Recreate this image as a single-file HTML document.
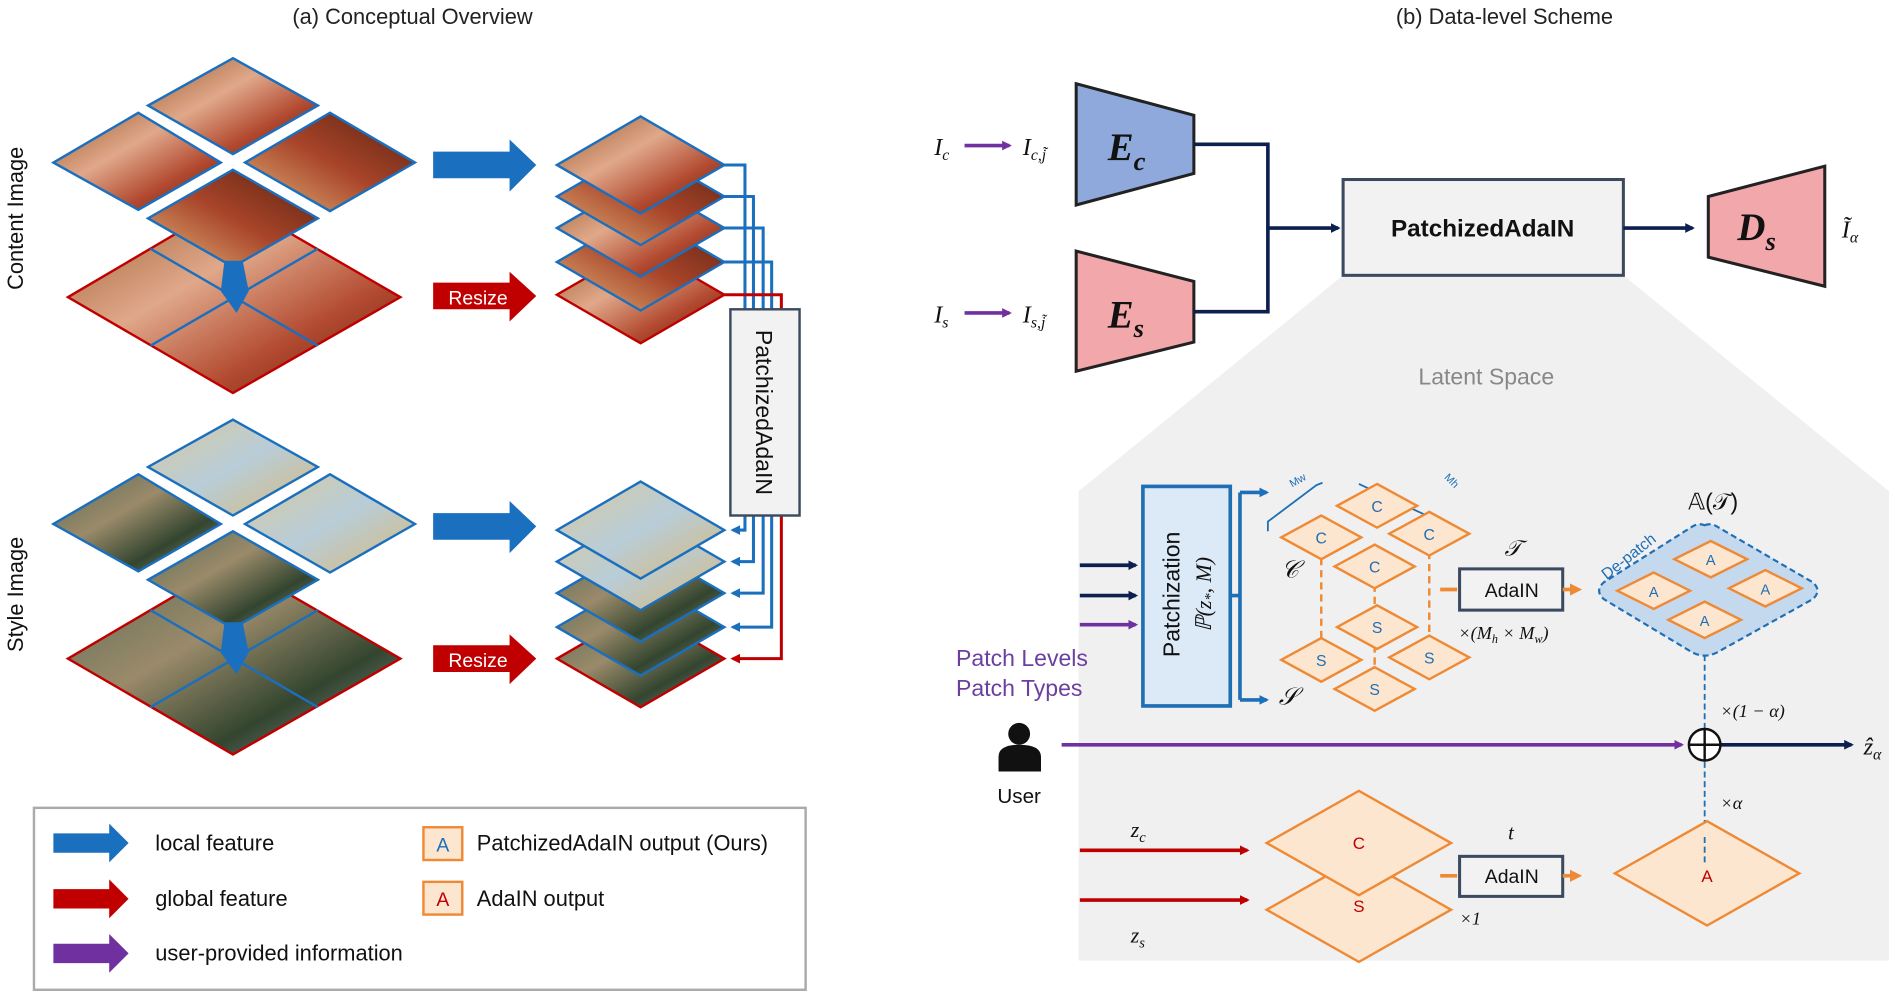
<!DOCTYPE html>
<html><head><meta charset="utf-8"><style>
html,body{margin:0;padding:0;background:#fff;}
svg{display:block;}
text{font-family:"Liberation Sans",sans-serif;}
.ser{font-family:"Liberation Serif",serif;font-style:italic;}
</style></head><body>
<svg width="1900" height="991" viewBox="0 0 1566 817" preserveAspectRatio="none" xmlns="http://www.w3.org/2000/svg">
<defs>
<linearGradient id="face" x1="0" y1="0" x2="1" y2="1"><stop offset="0" stop-color="#9a5a2e"/><stop offset="0.4" stop-color="#e0a88a"/><stop offset="0.7" stop-color="#b24a30"/><stop offset="1" stop-color="#5e2010"/></linearGradient>
<linearGradient id="face2" x1="1" y1="0" x2="0" y2="1"><stop offset="0" stop-color="#5a2210"/><stop offset="0.5" stop-color="#a8442a"/><stop offset="1" stop-color="#e2b478"/></linearGradient>
<linearGradient id="sty" x1="0" y1="0" x2="1" y2="1"><stop offset="0" stop-color="#d9c9a0"/><stop offset="0.5" stop-color="#b8cdd8"/><stop offset="1" stop-color="#d8b878"/></linearGradient>
<linearGradient id="sty2" x1="0" y1="0" x2="1" y2="1"><stop offset="0" stop-color="#5b6a55"/><stop offset="0.4" stop-color="#9a8a6a"/><stop offset="0.7" stop-color="#33452f"/><stop offset="1" stop-color="#8c9aa0"/></linearGradient>
<marker id="mn" markerWidth="8" markerHeight="8" refX="6" refY="4" orient="auto" markerUnits="userSpaceOnUse"><path d="M0,0 L8,4 L0,8 Z" fill="#0d1f4e"/></marker>
<marker id="mp" markerWidth="8" markerHeight="8" refX="6" refY="4" orient="auto" markerUnits="userSpaceOnUse"><path d="M0,0 L8,4 L0,8 Z" fill="#7030a0"/></marker>
<marker id="mr" markerWidth="8" markerHeight="8" refX="6" refY="4" orient="auto" markerUnits="userSpaceOnUse"><path d="M0,0 L8,4 L0,8 Z" fill="#c00000"/></marker>
<marker id="mb" markerWidth="8" markerHeight="8" refX="6" refY="4" orient="auto" markerUnits="userSpaceOnUse"><path d="M0,0 L8,4 L0,8 Z" fill="#1a6fbe"/></marker>
<marker id="mo" markerWidth="10" markerHeight="10" refX="6" refY="5" orient="auto" markerUnits="userSpaceOnUse"><path d="M0,0 L10,5 L0,10 Z" fill="#ee8a35"/></marker>
</defs>

<text x="340" y="20" font-size="18" text-anchor="middle" fill="#222">(a) Conceptual Overview</text>
<text x="1240" y="20" font-size="18" text-anchor="middle" fill="#222">(b) Data-level Scheme</text>
<text transform="translate(19,180) rotate(-90)" font-size="18" text-anchor="middle" fill="#111">Content Image</text>
<text transform="translate(19,490) rotate(-90)" font-size="18" text-anchor="middle" fill="#111">Style Image</text>

<g stroke-width="2">
<polygon points="192,165 330,245 192,324 56,245" fill="url(#face)" stroke="#c00000"/>
<line x1="124" y1="205" x2="262" y2="285" stroke="#1a6fbe" stroke-width="2"/>
<line x1="262" y1="205" x2="124" y2="285" stroke="#1a6fbe" stroke-width="2"/>
<polygon points="114,93 182,134 114,173 44,134" fill="url(#face)" stroke="#1a6fbe"/>
<polygon points="272,93 342,134 272,174 202,134" fill="url(#face2)" stroke="#1a6fbe"/>
<polygon points="192,140 262,180 192,220 122,180" fill="url(#face2)" stroke="#1a6fbe"/>
<polygon points="192,48 262,87 192,127 122,87" fill="url(#face)" stroke="#1a6fbe"/>
</g>
<path d="M185,215 L200,215 L205,240 L195,258 L182,240 Z" fill="#1a6fbe"/>
<g stroke-width="2">
<polygon points="192,463 330,543 192,622 56,543" fill="url(#sty2)" stroke="#c00000"/>
<line x1="124" y1="503" x2="262" y2="583" stroke="#1a6fbe"/>
<line x1="262" y1="503" x2="124" y2="583" stroke="#1a6fbe"/>
<polygon points="114,391 182,432 114,471 44,432" fill="url(#sty2)" stroke="#1a6fbe"/>
<polygon points="272,391 342,432 272,472 202,432" fill="url(#sty)" stroke="#1a6fbe"/>
<polygon points="192,438 262,478 192,518 122,478" fill="url(#sty2)" stroke="#1a6fbe"/>
<polygon points="192,346 262,385 192,425 122,385" fill="url(#sty)" stroke="#1a6fbe"/>
</g>
<path d="M185,513 L200,513 L205,538 L195,556 L182,538 Z" fill="#1a6fbe"/>

<path d="M357,125 L420,125 L420,115 L442,136 L420,158 L420,147 L357,147 Z" fill="#1a6fbe"/>
<path d="M357,233 L420,233 L420,224 L442,244 L420,265 L420,255 L357,255 Z" fill="#c00000"/>
<text x="394" y="251" font-size="16" fill="#fff" text-anchor="middle">Resize</text>
<path d="M357,423 L420,423 L420,413 L442,434 L420,456 L420,445 L357,445 Z" fill="#1a6fbe"/>
<path d="M357,532 L420,532 L420,523 L442,543 L420,564 L420,554 L357,554 Z" fill="#c00000"/>
<text x="394" y="550" font-size="16" fill="#fff" text-anchor="middle">Resize</text>

<g stroke-width="2">
<polygon points="528,203 597,243 528,283 459,243" fill="url(#face)" stroke="#c00000"/>
<polygon points="528,176 597,216 528,256 459,216" fill="url(#face2)" stroke="#1a6fbe"/>
<polygon points="528,148 597,188 528,228 459,188" fill="url(#face)" stroke="#1a6fbe"/>
<polygon points="528,122 597,162 528,202 459,162" fill="url(#face2)" stroke="#1a6fbe"/>
<polygon points="528,96 597,136 528,176 459,136" fill="url(#face)" stroke="#1a6fbe"/>
</g>
<g fill="none" stroke-width="2.5">
<path d="M597,136 H614 V255" stroke="#1a6fbe"/>
<path d="M597,162 H621 V255" stroke="#1a6fbe"/>
<path d="M597,188 H629 V255" stroke="#1a6fbe"/>
<path d="M597,216 H636 V255" stroke="#1a6fbe"/>
<path d="M597,243 H644 V255" stroke="#c00000"/>
</g>
<g stroke-width="2">
<polygon points="528,503 597,543 528,583 459,543" fill="url(#sty2)" stroke="#c00000"/>
<polygon points="528,477 597,517 528,557 459,517" fill="url(#sty2)" stroke="#1a6fbe"/>
<polygon points="528,449 597,489 528,529 459,489" fill="url(#sty2)" stroke="#1a6fbe"/>
<polygon points="528,423 597,463 528,503 459,463" fill="url(#sty)" stroke="#1a6fbe"/>
<polygon points="528,397 597,437 528,477 459,437" fill="url(#sty)" stroke="#1a6fbe"/>
</g>
<g fill="none" stroke-width="2.5">
<path d="M614,425 V437 H604" stroke="#1a6fbe" marker-end="url(#mb)"/>
<path d="M621,425 V463 H604" stroke="#1a6fbe" marker-end="url(#mb)"/>
<path d="M629,425 V489 H604" stroke="#1a6fbe" marker-end="url(#mb)"/>
<path d="M636,425 V517 H604" stroke="#1a6fbe" marker-end="url(#mb)"/>
<path d="M644,425 V543 H604" stroke="#c00000" marker-end="url(#mr)"/>
</g>
<rect x="602" y="255" width="57" height="170" fill="#f2f2f2" stroke="#3b4a5f" stroke-width="2"/>
<text transform="translate(623,340) rotate(90)" font-size="19" text-anchor="middle" fill="#111">PatchizedAdaIN</text>

<rect x="28" y="666" width="636" height="150" fill="#fff" stroke="#aaa" stroke-width="2"/>
<path d="M44,687 L90,687 L90,679 L106,695 L90,711 L90,703 L44,703 Z" fill="#1a6fbe"/>
<path d="M44,733 L90,733 L90,725 L106,741 L90,757 L90,749 L44,749 Z" fill="#c00000"/>
<path d="M44,778 L90,778 L90,770 L106,786 L90,802 L90,794 L44,794 Z" fill="#7030a0"/>
<g font-size="18" fill="#111">
<text x="128" y="701">local feature</text>
<text x="128" y="747">global feature</text>
<text x="128" y="792">user-provided information</text>
<text x="393" y="701">PatchizedAdaIN output (Ours)</text>
<text x="393" y="747">AdaIN output</text>
</g>
<rect x="349" y="682" width="32" height="27" fill="#fde6cf" stroke="#ee8a35" stroke-width="2"/>
<text x="365" y="702" font-size="16" text-anchor="middle" fill="#1a6fbe">A</text>
<rect x="349" y="727" width="32" height="27" fill="#fde6cf" stroke="#ee8a35" stroke-width="2"/>
<text x="365" y="747" font-size="16" text-anchor="middle" fill="#c00000">A</text>

<polygon points="1107,227 1338,227 1557,405 1557,792 889,792 889,405" fill="#f0f0f0"/>
<text x="1225" y="317" font-size="19" text-anchor="middle" fill="#888">Latent Space</text>

<text x="770" y="128" class="ser" font-size="20" fill="#111">I<tspan font-size="13" dy="4">c</tspan></text>
<line x1="795" y1="120" x2="832" y2="120" stroke="#7030a0" stroke-width="3" marker-end="url(#mp)"/>
<text x="843" y="128" class="ser" font-size="20" fill="#111">I<tspan font-size="13" dy="4">c,j̃</tspan></text>
<text x="770" y="266" class="ser" font-size="20" fill="#111">I<tspan font-size="13" dy="4">s</tspan></text>
<line x1="795" y1="258" x2="832" y2="258" stroke="#7030a0" stroke-width="3" marker-end="url(#mp)"/>
<text x="843" y="266" class="ser" font-size="20" fill="#111">I<tspan font-size="13" dy="4">s,j̃</tspan></text>

<polygon points="887,69 984,95 984,143 887,169" fill="#8fa9dc" stroke="#222" stroke-width="2.5"/>
<text x="913" y="132" class="ser" font-size="32" font-weight="bold" fill="#111">E<tspan font-size="22" dy="8">c</tspan></text>
<polygon points="887,207 984,232 984,282 887,306" fill="#f2a7aa" stroke="#222" stroke-width="2.5"/>
<text x="913" y="270" class="ser" font-size="32" font-weight="bold" fill="#111">E<tspan font-size="22" dy="8">s</tspan></text>
<path d="M984,119 H1045 V257 H984" fill="none" stroke="#0d1f4e" stroke-width="3"/>
<line x1="1045" y1="188" x2="1103" y2="188" stroke="#0d1f4e" stroke-width="3" marker-end="url(#mn)"/>
<rect x="1107" y="148" width="231" height="79" fill="#f2f2f2" stroke="#3b4a5f" stroke-width="2.5"/>
<text x="1222" y="195" font-size="20" font-weight="bold" text-anchor="middle" fill="#111">PatchizedAdaIN</text>
<line x1="1338" y1="188" x2="1395" y2="188" stroke="#0d1f4e" stroke-width="3" marker-end="url(#mn)"/>
<polygon points="1408,162 1504,137 1504,236 1408,212" fill="#f2a7aa" stroke="#222" stroke-width="2.5"/>
<text x="1432" y="198" class="ser" font-size="32" font-weight="bold" fill="#111">D<tspan font-size="22" dy="8">s</tspan></text>
<text x="1518" y="196" class="ser" font-size="20" fill="#111">Ĩ<tspan font-size="13" dy="4">α</tspan></text>

<line x1="890" y1="466" x2="936" y2="466" stroke="#0d1f4e" stroke-width="3" marker-end="url(#mn)"/>
<line x1="890" y1="491" x2="936" y2="491" stroke="#0d1f4e" stroke-width="3" marker-end="url(#mn)"/>
<line x1="890" y1="515" x2="936" y2="515" stroke="#7030a0" stroke-width="3" marker-end="url(#mp)"/>
<rect x="942" y="401" width="72" height="181" fill="#dce9f7" stroke="#1f6fb5" stroke-width="3"/>
<text transform="translate(972,490) rotate(-90)" font-size="19" text-anchor="middle" fill="#111">Patchization</text>
<text transform="translate(998,490) rotate(-90)" class="ser" font-size="18" text-anchor="middle" fill="#111">ℙ(z<tspan font-size="12" dy="3">*</tspan><tspan dy="-3">, M)</tspan></text>
<path d="M1014,491 H1022 M1022,406 V577" fill="none" stroke="#1f6fb5" stroke-width="3"/>
<line x1="1022" y1="406" x2="1044" y2="406" stroke="#1f6fb5" stroke-width="3" marker-end="url(#mb)"/>
<line x1="1022" y1="577" x2="1044" y2="577" stroke="#1f6fb5" stroke-width="3" marker-end="url(#mb)"/>
<text x="788" y="549" font-family="Liberation Serif,serif" font-size="19" fill="#6b3fa0">Patch Levels</text>
<text x="788" y="574" font-family="Liberation Serif,serif" font-size="19" fill="#6b3fa0">Patch Types</text>
<text x="1056" y="476" class="ser" font-size="20" fill="#111">𝒞</text>
<text x="1054" y="581" class="ser" font-size="20" fill="#111">𝒮</text>
<path d="M1045,438 L1045,430 L1085,400 L1090,398 M1120,399 L1165,420 L1178,426 L1178,432" fill="none" stroke="#1f6fb5" stroke-width="1.5"/>
<text x="1065" y="402" font-size="9" fill="#1f6fb5" transform="rotate(-30 1065 402)">Mw</text>
<text x="1190" y="394" font-size="9" fill="#1f6fb5" transform="rotate(45 1190 394)">Mh</text>
<g stroke="#ee8a35" stroke-width="2" stroke-dasharray="6,4">
<line x1="1089" y1="450" x2="1089" y2="540"/><line x1="1133" y1="472" x2="1133" y2="570"/><line x1="1178" y1="445" x2="1178" y2="540"/>
</g>
<g fill="#fde6cf" stroke="#ee8a35" stroke-width="2">
<polygon points="1133,550 1166,568 1133,586 1100,568"/>
<polygon points="1089,526 1122,544 1089,562 1056,544"/>
<polygon points="1178,524 1211,542 1178,560 1145,542"/>
<polygon points="1135,499 1168,517 1135,535 1102,517"/>
<polygon points="1133,449 1166,467 1133,485 1100,467"/>
<polygon points="1089,425 1122,443 1089,461 1056,443"/>
<polygon points="1178,422 1211,440 1178,458 1145,440"/>
<polygon points="1135,399 1168,417 1135,435 1102,417"/>
</g>
<g font-size="13" fill="#1f6fb5" text-anchor="middle">
<text x="1135" y="422">C</text><text x="1089" y="448">C</text><text x="1178" y="445">C</text><text x="1133" y="472">C</text>
<text x="1135" y="522">S</text><text x="1089" y="549">S</text><text x="1178" y="547">S</text><text x="1133" y="573">S</text>
</g>
<line x1="1187" y1="486" x2="1201" y2="486" stroke="#ee8a35" stroke-width="3"/>
<rect x="1203" y="469" width="85" height="34" fill="#f2f2f2" stroke="#3b4a5f" stroke-width="2.5"/>
<text x="1246" y="492" font-size="16" text-anchor="middle" fill="#111">AdaIN</text>
<line x1="1288" y1="486" x2="1300" y2="486" stroke="#ee8a35" stroke-width="3" marker-end="url(#mo)"/>
<text x="1240" y="458" class="ser" font-size="18" fill="#111">𝒯</text>
<text x="1202" y="527" class="ser" font-size="15" fill="#111">×(M<tspan font-size="10" dy="3">h</tspan><tspan dy="-3"> × M</tspan><tspan font-size="10" dy="3">w</tspan><tspan dy="-3">)</tspan></text>
<text x="1412" y="420" font-family="Liberation Serif,serif" font-size="19" text-anchor="middle" fill="#111">𝔸(𝒯)</text>
<path d="M1405,433 Q1410,431 1415,434 L1494,480 Q1502,487 1494,494 L1415,538 Q1405,543 1395,538 L1322,494 Q1314,487 1322,480 L1395,434 Q1400,431 1405,433 Z" fill="#c5d9ee" stroke="#1f6fb5" stroke-width="1.8" stroke-dasharray="5,3"/>
<g fill="#fde6cf" stroke="#ee8a35" stroke-width="2">
<polygon points="1410,446 1440,461 1410,476 1380,461"/>
<polygon points="1363,472 1393,487 1363,502 1333,487"/>
<polygon points="1455,470 1485,485 1455,500 1425,485"/>
<polygon points="1405,496 1435,511 1405,526 1375,511"/>
</g>
<g font-size="12" fill="#1f6fb5" text-anchor="middle">
<text x="1410" y="466">A</text><text x="1363" y="492">A</text><text x="1455" y="490">A</text><text x="1405" y="516">A</text>
</g>
<text x="1345" y="462" font-size="13" fill="#1f6fb5" transform="rotate(-38 1345 462)" text-anchor="middle">De-patch</text>
<line x1="1405" y1="540" x2="1405" y2="712" stroke="#1f6fb5" stroke-width="1.5" stroke-dasharray="5,3"/>
<text x="1418" y="591" class="ser" font-size="15" fill="#111">×(1 − α)</text>
<text x="1418" y="667" class="ser" font-size="15" fill="#111">×α</text>
<circle cx="840" cy="605" r="9" fill="#111"/>
<path d="M823,636 L823,624 Q823,614 840,614 Q858,614 858,624 L858,636 Z" fill="#111"/>
<text x="840" y="662" font-family="Liberation Serif,serif" font-size="17" text-anchor="middle" fill="#111">User</text>
<line x1="875" y1="614" x2="1386" y2="614" stroke="#7030a0" stroke-width="3" marker-end="url(#mp)"/>
<line x1="1418" y1="614" x2="1526" y2="614" stroke="#0d1f4e" stroke-width="3" marker-end="url(#mn)"/>
<circle cx="1405" cy="614" r="13" fill="#fff" stroke="#111" stroke-width="2"/>
<path d="M1392,614 H1418 M1405,601 V627" stroke="#111" stroke-width="2"/>
<text x="1536" y="622" class="ser" font-size="20" fill="#111">ẑ<tspan font-size="13" dy="4">α</tspan></text>
<text x="932" y="690" class="ser" font-size="18" fill="#111">z<tspan font-size="12" dy="4">c</tspan></text>
<line x1="890" y1="701" x2="1028" y2="701" stroke="#c00000" stroke-width="3" marker-end="url(#mr)"/>
<line x1="890" y1="742" x2="1028" y2="742" stroke="#c00000" stroke-width="3" marker-end="url(#mr)"/>
<text x="932" y="777" class="ser" font-size="18" fill="#111">z<tspan font-size="12" dy="4">s</tspan></text>
<polygon points="1120,707 1196,750 1120,793 1044,750" fill="#fde6cf" stroke="#ee8a35" stroke-width="2"/>
<text x="1120" y="752" font-size="14" fill="#c00000" text-anchor="middle">S</text>
<polygon points="1120,652 1196,695 1120,738 1044,695" fill="#fde6cf" stroke="#ee8a35" stroke-width="2"/>
<text x="1120" y="700" font-size="14" fill="#c00000" text-anchor="middle">C</text>
<line x1="1187" y1="722" x2="1201" y2="722" stroke="#ee8a35" stroke-width="3"/>
<rect x="1203" y="706" width="85" height="33" fill="#f2f2f2" stroke="#3b4a5f" stroke-width="2.5"/>
<text x="1246" y="728" font-size="16" text-anchor="middle" fill="#111">AdaIN</text>
<line x1="1288" y1="722" x2="1300" y2="722" stroke="#ee8a35" stroke-width="3" marker-end="url(#mo)"/>
<text x="1243" y="692" class="ser" font-size="17" fill="#111">t</text>
<text x="1203" y="762" class="ser" font-size="15" fill="#111">×1</text>
<polygon points="1407,677 1483,720 1407,763 1331,720" fill="#fde6cf" stroke="#ee8a35" stroke-width="2"/>
<line x1="1405" y1="690" x2="1405" y2="712" stroke="#1f6fb5" stroke-width="1.5" stroke-dasharray="5,3"/>
<text x="1407" y="727" font-size="14" fill="#c00000" text-anchor="middle">A</text>
</svg>
</body></html>
